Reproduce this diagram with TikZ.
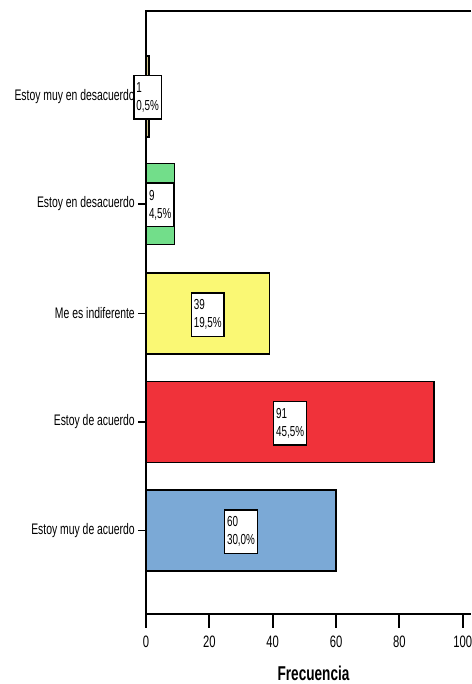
\documentclass[tikz,border=0pt]{standalone}
\usepackage{fontspec}
\setmainfont[FakeStretch=0.68]{Liberation Sans}
\usepackage{tikz}
\usetikzlibrary{positioning,calc}

\definecolor{tanbar}{HTML}{D3C68C}
\definecolor{greenbar}{HTML}{72DE8A}
\definecolor{yellowbar}{HTML}{FAF874}
\definecolor{redbar}{HTML}{F0323A}
\definecolor{bluebar}{HTML}{7BA9D6}

\tikzset{
    bar/.style={draw=black, line width=1.8pt},
    valbox/.style={draw=black, fill=white, line width=1.5pt, align=left, inner xsep=2.5pt, inner ysep=2pt, minimum height=43.5pt, font=\fontsize{14.5}{18}\selectfont},
    catlab/.style={anchor=east, inner sep=0pt, font=\fontsize{15.3}{18}\selectfont},
    ticklab/.style={inner sep=0pt, font=\fontsize{16.5}{19}\selectfont}
}

\begin{document}
\begin{tikzpicture}[x=1pt, y=-1pt]
    \useasboundingbox (0,0) rectangle (471,684);
    \clip (0,0) rectangle (471,684);

    % Frame
    \coordinate (tl) at (146,11);
    \coordinate (bl) at (146,614);
    \draw [line width=1.8pt] (471,11) -- (tl) -- (bl) -- (471,614);

    % Bars
    \foreach \y/\v/\pct/\col/\lab [count=\i] in {96.5/1/{0,5\%}/tanbar/{Estoy muy en desacuerdo}, 204/9/{4,5\%}/greenbar/{Estoy en desacuerdo}, 313.5/39/{19,5\%}/yellowbar/{Me es indiferente}, 422/91/{45,5\%}/redbar/{Estoy de acuerdo}, 530.5/60/{30,0\%}/bluebar/{Estoy muy de acuerdo}} {
        \draw [line width=1.8pt] (138,\y) -- (146,\y);
        \node [catlab] (cat\i) at (135,\y) {\lab};
        \draw [bar, fill=\col] (146,\y-40.5) rectangle (146+\v*3.1667,\y+40.5);
        \node [valbox] (val\i) at (146+\v*1.5833,\y+1) {\v\\\pct};
    }

    % Bottom axis
    \foreach \t in {0,20,40,60,80,100} {
        \draw [line width=1.8pt] (146+\t*3.1667,614) -- (146+\t*3.1667,628);
        \node [ticklab] (tick\t) at (146+\t*3.1667,642) {\t};
    }
    \node [font=\bfseries\fontsize{20}{23}\selectfont, inner sep=0pt] (xlab) at (313.5,673) {Frecuencia};
\end{tikzpicture}
\end{document}
